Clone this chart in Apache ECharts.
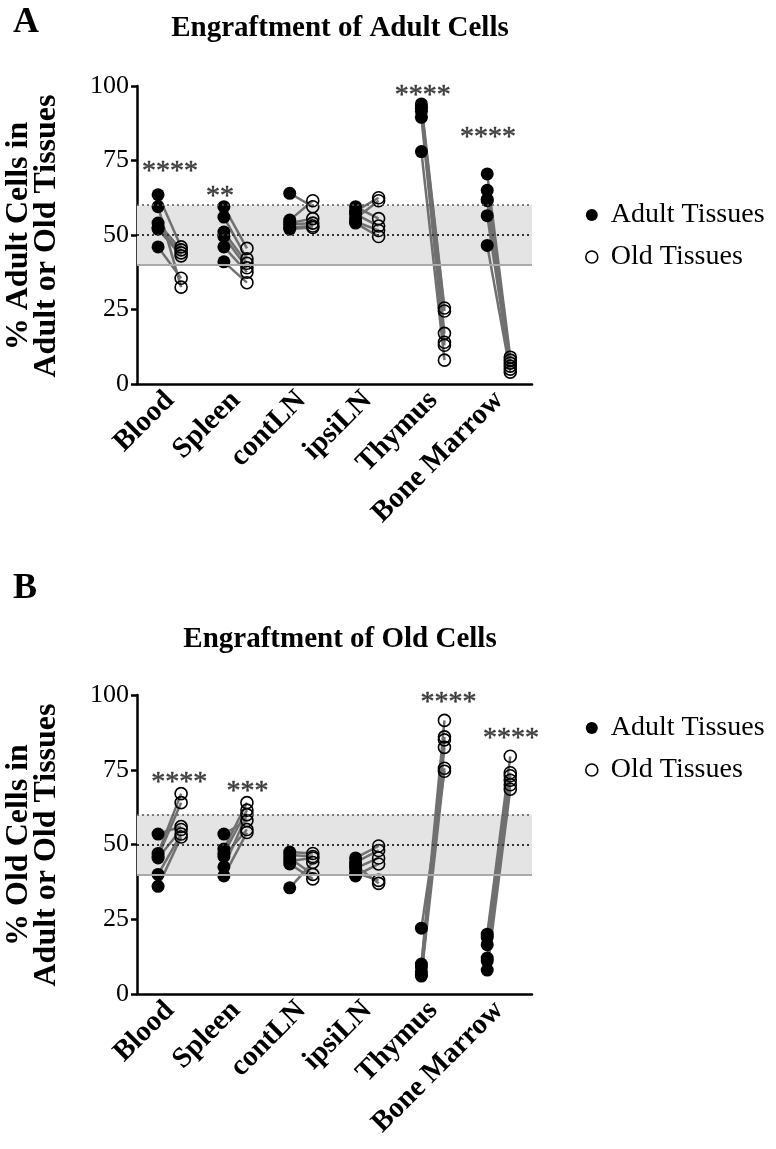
<!DOCTYPE html>
<html><head><meta charset="utf-8">
<script src="https://cdn.jsdelivr.net/npm/echarts@6/dist/echarts.min.js"></script>
<style>html,body{margin:0;padding:0;background:#fff}#c{width:776px;height:1149px}</style>
</head><body><div id="c"></div>
<script>
const categories = ['Blood','Spleen','contLN','ipsiLN','Thymus','Bone Marrow'];
const yTicks = [0,25,50,75,100];
const seriesNames = ['Adult Tissues','Old Tissues'];

// Panel A: % Adult cells (index j in adult pairs with index j in old = same mouse)
const adultA_adult = [
  [63.5,59.5,54,52.5,52,46],
  [59.5,56,51,49.5,46,41],
  [64,55,54,53.5,52.5,52],
  [59.5,58,57,55.5,54.5,54],
  [94,93,92.5,91.5,89.5,78],
  [70.5,65,62,61.5,56.5,46.5]
];
const adultA_old = [
  [46,32.5,45,44,43,35.5],
  [45.5,42,40.5,39,37.5,34],
  [59.5,61.5,55.5,54,53,52.5],
  [55.5,62.5,53,61.5,51.5,49.5],
  [25.5,24.5,17,14,13,8],
  [9,8,7,6,5,4]
];
const starsA = ['****','**','','','****','****'];
const starHeightA = [71.3,63,null,null,96.7,82.8];

// Panel B: % Old cells
const oldB_adult = [
  [53.5,47,46,45.5,40,36],
  [53.5,48.5,47,46,42.5,39.5],
  [47.5,46.5,45.5,44.5,43.5,35.5],
  [45.5,44,43,42,40.5,39.5],
  [22,10,9,7.5,6.5,6],
  [20,19,16.5,12,11,8]
];
const oldB_old = [
  [56,67,64,55,53.5,52.5],
  [58,64,61.5,55,60,54],
  [47,46,40,45.5,38.5,44],
  [49.5,48,37,45.5,38,43.5],
  [74.5,91.5,86,85,82.5,75.5],
  [79.5,74,73,71.5,70,68.5]
];
const starsB = ['****','***','','','****','****'];
const starHeightB = [70.8,67.6,null,null,97.5,85.5];

// ---- layout (not data) ----
const ADULT_OFF = -0.18, OLD_OFF = 0.17;
const starOffA = [0,-0.24,0,0,-0.16,-0.17];
const starOffB = [0.14,0.18,0,0,0.23,0.18];
const SERIF = '"Liberation Serif", "Times New Roman", "DejaVu Serif", serif';

function panelSeries(gi, adultArr, oldArr, stars, starH, starOff){
  const xi = gi*2+1, yi = gi;
  const pairs = [], adultPts = [], oldPts = [], starPts = [];
  adultArr.forEach((vals,i)=>{
    vals.forEach((a,j)=>{
      const o = oldArr[i][j];
      adultPts.push([i+ADULT_OFF, a]);
      oldPts.push([i+OLD_OFF, o]);
      pairs.push({coords:[[i+ADULT_OFF,a],[i+OLD_OFF,o]]});
    });
    if (stars[i]) starPts.push({value:[i+starOff[i], starH[i]], label:{formatter:stars[i]}});
  });
  return [
    {type:'scatter', xAxisIndex:xi, yAxisIndex:yi, data:[], z:1, silent:true,
      markArea:{silent:true, itemStyle:{color:'#e4e4e4'}, data:[[{xAxis:-0.5,yAxis:40},{xAxis:5.5,yAxis:60}]]},
      markLine:{silent:true, symbol:'none', label:{show:false},
        data:[
          {yAxis:60, lineStyle:{color:'#555', type:[2,3], width:1.5}},
          {yAxis:50, lineStyle:{color:'#333', type:[2,3], width:1.8}},
          {yAxis:40, lineStyle:{color:'#aaa', type:'solid', width:2}}
        ]}},
    {type:'lines', coordinateSystem:'cartesian2d', xAxisIndex:xi, yAxisIndex:yi, z:2, silent:true,
      lineStyle:{color:'#707070', width:2.5, opacity:1}, data:pairs},
    {name:seriesNames[0], type:'scatter', xAxisIndex:xi, yAxisIndex:yi, z:3, symbol:'circle', symbolSize:13,
      itemStyle:{color:'#000', opacity:1}, data:adultPts},
    {name:seriesNames[1], type:'scatter', xAxisIndex:xi, yAxisIndex:yi, z:4, symbol:'circle', symbolSize:12,
      itemStyle:{color:'rgba(255,255,255,0)', borderColor:'#000', borderWidth:1.6, opacity:1}, data:oldPts},
    {type:'scatter', xAxisIndex:xi, yAxisIndex:yi, z:5, symbolSize:0, silent:true,
      label:{show:true, position:'inside', fontFamily:SERIF, fontSize:28, color:'#111',
        textBorderColor:'#444', textBorderWidth:0.6}, data:starPts}
  ];
}

function catAxis(gi){
  return {type:'category', gridIndex:gi, data:categories, boundaryGap:true,
    axisLine:{onZero:false, lineStyle:{color:'#000', width:2.5}},
    axisTick:{alignWithLabel:true, length:8, lineStyle:{color:'#000', width:2.5}},
    axisLabel:{rotate:45, margin:12, interval:0, color:'#000', fontFamily:SERIF, fontWeight:'bold', fontSize:29},
    splitLine:{show:false}};
}
function valX(gi){ return {type:'value', gridIndex:gi, min:-0.5, max:5.5, show:false, splitLine:{show:false}}; }
function yAx(gi){
  return {type:'value', gridIndex:gi, min:yTicks[0], max:yTicks[yTicks.length-1], interval:25,
    axisLine:{show:true, onZero:false, lineStyle:{color:'#000', width:2.5}},
    axisTick:{show:true, length:6, lineStyle:{color:'#000', width:2.5}},
    axisLabel:{margin:8, color:'#000', fontFamily:SERIF, fontSize:26},
    splitLine:{show:false}};
}
function legend(top){
  return {orient:'vertical', left:580, top:top, itemWidth:12, itemHeight:12, itemGap:14,
    textStyle:{fontFamily:SERIF, fontSize:28, color:'#000', padding:[0,0,0,8]},
    data:[{name:seriesNames[0], icon:'circle', itemStyle:{color:'#000'}},
          {name:seriesNames[1], icon:'circle', itemStyle:{color:'#fff', borderColor:'#000', borderWidth:1.6}}]};
}

const chart = echarts.init(document.getElementById('c'), null, {renderer:'canvas'});
chart.setOption({
  animation:false,
  backgroundColor:'#fff',
  textStyle:{fontFamily:SERIF},
  title:[
    {text:'A', left:8, top:0, textStyle:{fontFamily:SERIF, fontWeight:'bold', fontSize:36, color:'#000'}},
    {text:'Engraftment of Adult Cells', left:335, top:9, textAlign:'center', textStyle:{fontFamily:SERIF, fontWeight:'bold', fontSize:29, color:'#000'}},
    {text:'B', left:8, top:566, textStyle:{fontFamily:SERIF, fontWeight:'bold', fontSize:36, color:'#000'}},
    {text:'Engraftment of Old Cells', left:335, top:620, textAlign:'center', textStyle:{fontFamily:SERIF, fontWeight:'bold', fontSize:29, color:'#000'}}
  ],
  legend:[legend(196), legend(709)],
  grid:[
    {left:137, top:86, width:395, height:298},
    {left:137, top:695, width:395, height:299}
  ],
  xAxis:[catAxis(0), valX(0), catAxis(1), valX(1)],
  yAxis:[yAx(0), yAx(1)],
  graphic:[
    {type:'text', x:33, y:236, rotation:Math.PI/2, style:{text:'% Adult Cells in\nAdult or Old Tissues', fontFamily:SERIF, fontWeight:'bold', fontSize:32, lineHeight:28, textAlign:'center', textVerticalAlign:'middle', fill:'#000'}},
    {type:'text', x:33, y:845, rotation:Math.PI/2, style:{text:'% Old Cells in\nAdult or Old Tissues', fontFamily:SERIF, fontWeight:'bold', fontSize:32, lineHeight:28, textAlign:'center', textVerticalAlign:'middle', fill:'#000'}}
  ],
  series:[].concat(
    panelSeries(0, adultA_adult, adultA_old, starsA, starHeightA, starOffA),
    panelSeries(1, oldB_adult, oldB_old, starsB, starHeightB, starOffB)
  )
});
</script></body></html>
